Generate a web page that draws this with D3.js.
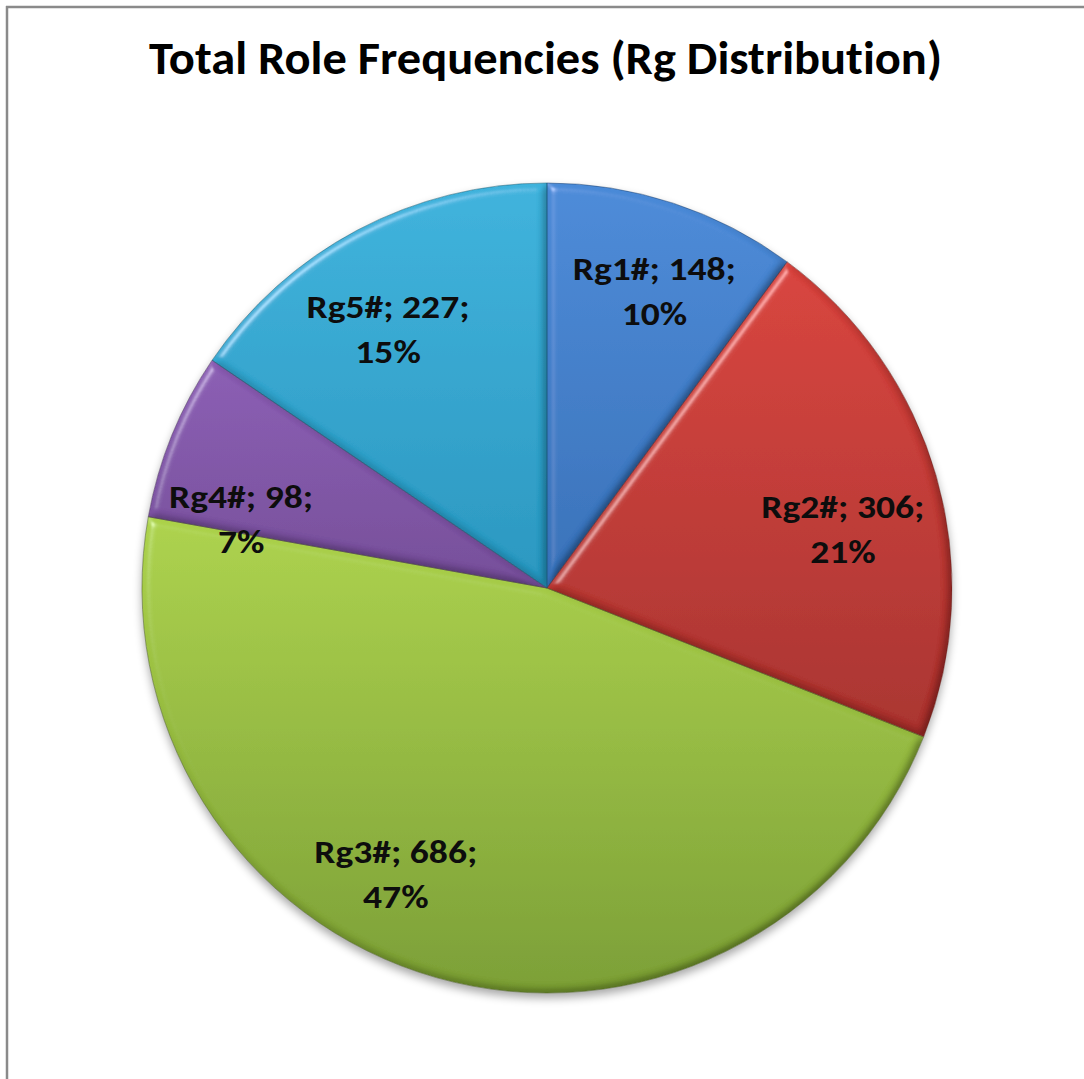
<!DOCTYPE html>
<html>
<head>
<meta charset="utf-8">
<script src="https://cdn.jsdelivr.net/npm/d3@7"></script>
<style>
  html, body { margin: 0; padding: 0; background: #ffffff; }
  svg { display: block; }
  text { font-variant-ligatures: none; font-feature-settings: "liga" 0, "clig" 0; }
</style>
</head>
<body>
<svg id="chart" width="1084" height="1079"></svg>
<script>
// Role-group frequencies, in drawing order (clockwise from 12 o'clock)
const categories = ["Rg1#", "Rg2#", "Rg3#", "Rg4#", "Rg5#"];
const counts = [148, 306, 686, 98, 227];
const percentLabels = ["10%", "21%", "47%", "7%", "15%"];
const title = "Total Role Frequencies (Rg Distribution)";

// Fill colours per slice: [lighter top, darker bottom]
const sliceColors = [
  ["#4a8ad8", "#3570b8"],
  ["#d8413b", "#a82f2b"],
  ["#acd24a", "#7a9e32"],
  ["#8a5cb3", "#744c98"],
  ["#3cb2dc", "#2496bf"]
];

const W = 1084, H = 1079;
const cx = 547, cy = 588, R = 405;
const FONT = "Carlito, Calibri, Lato, 'Open Sans', sans-serif";

const svg = d3.select("#chart");
const defs = svg.append("defs");

// frame lines along top and left
svg.append("line").attr("x1", 6).attr("y1", 7).attr("x2", W).attr("y2", 7)
  .attr("stroke", "#8a8a8a").attr("stroke-width", 2.5);
svg.append("line").attr("x1", 7).attr("y1", 6).attr("x2", 7).attr("y2", H)
  .attr("stroke", "#8a8a8a").attr("stroke-width", 2.5);

// title, fitted to its span
const titleText = svg.append("text")
  .attr("x", 545.5).attr("y", 74)
  .attr("text-anchor", "middle")
  .attr("font-family", FONT).attr("font-weight", "bold")
  .attr("font-size", 46).attr("fill", "#000")
  .text(title);
titleText.attr("textLength", 793).attr("lengthAdjust", "spacingAndGlyphs");

// soft drop shadow under the pie
const shadow = defs.append("filter").attr("id", "pieShadow")
  .attr("x", "-10%").attr("y", "-10%").attr("width", "120%").attr("height", "120%");
shadow.append("feGaussianBlur").attr("stdDeviation", 5);

// bevel: diffuse shading multiplied in, specular highlight added
const bevel = defs.append("filter").attr("id", "bevel")
  .attr("x", "-5%").attr("y", "-5%").attr("width", "110%").attr("height", "110%");
bevel.append("feGaussianBlur").attr("in", "SourceAlpha").attr("stdDeviation", 4).attr("result", "blur");
const diff = bevel.append("feDiffuseLighting").attr("in", "blur")
  .attr("surfaceScale", 4).attr("diffuseConstant", 1.155)
  .attr("lighting-color", "#ffffff").attr("result", "diff");
diff.append("feDistantLight").attr("azimuth", 225).attr("elevation", 60);
bevel.append("feComposite").attr("in", "SourceGraphic").attr("in2", "diff")
  .attr("operator", "arithmetic").attr("k1", 1).attr("k2", 0).attr("k3", 0).attr("k4", 0)
  .attr("result", "shaded");
const spec = bevel.append("feSpecularLighting").attr("in", "blur")
  .attr("surfaceScale", 4).attr("specularConstant", 0.3).attr("specularExponent", 60)
  .attr("lighting-color", "#ffffff").attr("result", "spec");
spec.append("feDistantLight").attr("azimuth", 225).attr("elevation", 50);
bevel.append("feComposite").attr("in", "spec").attr("in2", "SourceAlpha")
  .attr("operator", "in").attr("result", "specIn");
bevel.append("feComposite").attr("in", "shaded").attr("in2", "specIn")
  .attr("operator", "arithmetic").attr("k1", 0).attr("k2", 1).attr("k3", 1).attr("k4", 0)
  .attr("result", "lit");
bevel.append("feComposite").attr("in", "lit").attr("in2", "SourceAlpha").attr("operator", "in");

// vertical gradient for each slice
sliceColors.forEach((c, i) => {
  const g = defs.append("linearGradient").attr("id", "grad" + i)
    .attr("x1", 0).attr("y1", 0).attr("x2", 0).attr("y2", 1);
  g.append("stop").attr("offset", "0%").attr("stop-color", c[0]);
  g.append("stop").attr("offset", "100%").attr("stop-color", c[1]);
});

const pie = d3.pie().sort(null).value(d => d).startAngle(0).endAngle(2 * Math.PI);
const arcs = pie(counts);
const arc = d3.arc().innerRadius(0).outerRadius(R);

const root = svg.append("g").attr("transform", `translate(${cx},${cy})`);

root.append("circle").attr("cx", 0).attr("cy", 5).attr("r", R)
  .attr("fill", "#000").attr("opacity", 0.35)
  .attr("filter", "url(#pieShadow)");

root.selectAll("path.slice").data(arcs).enter().append("path")
  .attr("class", "slice")
  .attr("d", arc)
  .attr("fill", (d, i) => `url(#grad${i})`)
  .attr("filter", "url(#bevel)");

// thin dark seams between slices
root.selectAll("path.seam").data(arcs).enter().append("path")
  .attr("class", "seam")
  .attr("d", arc)
  .attr("fill", "none")
  .attr("stroke", (d, i) => d3.color(sliceColors[i][1]).darker(1.2))
  .attr("stroke-opacity", 0.55)
  .attr("stroke-width", 1);

// data labels: category; count; on one line, percent below
const labelArc = d3.arc().innerRadius(312).outerRadius(312);
const labelNudge = [[10, -1], [-4, 27], [-66, -15], [-17, 48], [-13, 16]];
const fontSize = 33, lineGap = 45, capH = 24;

const labels = root.selectAll("g.label").data(arcs).enter().append("g")
  .attr("class", "label")
  .attr("transform", (d, i) => {
    const [x, y] = labelArc.centroid(d);
    return `translate(${x + labelNudge[i][0]},${y + labelNudge[i][1]})`;
  });

const line1 = labels.append("text")
  .attr("text-anchor", "middle")
  .attr("y", -(lineGap + capH) / 2 + capH)
  .attr("font-family", FONT).attr("font-weight", "bold")
  .attr("font-size", fontSize).attr("fill", "#0d0d0d")
  .text((d, i) => `${categories[i]}; ${counts[i]};`);
const line2 = labels.append("text")
  .attr("text-anchor", "middle")
  .attr("y", (lineGap + capH) / 2)
  .attr("font-family", FONT).attr("font-weight", "bold")
  .attr("font-size", fontSize).attr("fill", "#0d0d0d")
  .text((d, i) => percentLabels[i]);

// narrow the fallback face to the proportions of the chart's condensed label font
const refWidth = line1.nodes()[0].getComputedTextLength();
const k = 163 / refWidth;
[line1, line2].forEach(sel => sel.each(function () {
  const w = this.getComputedTextLength();
  d3.select(this).attr("textLength", w * k).attr("lengthAdjust", "spacingAndGlyphs");
}));
</script>
</body>
</html>
